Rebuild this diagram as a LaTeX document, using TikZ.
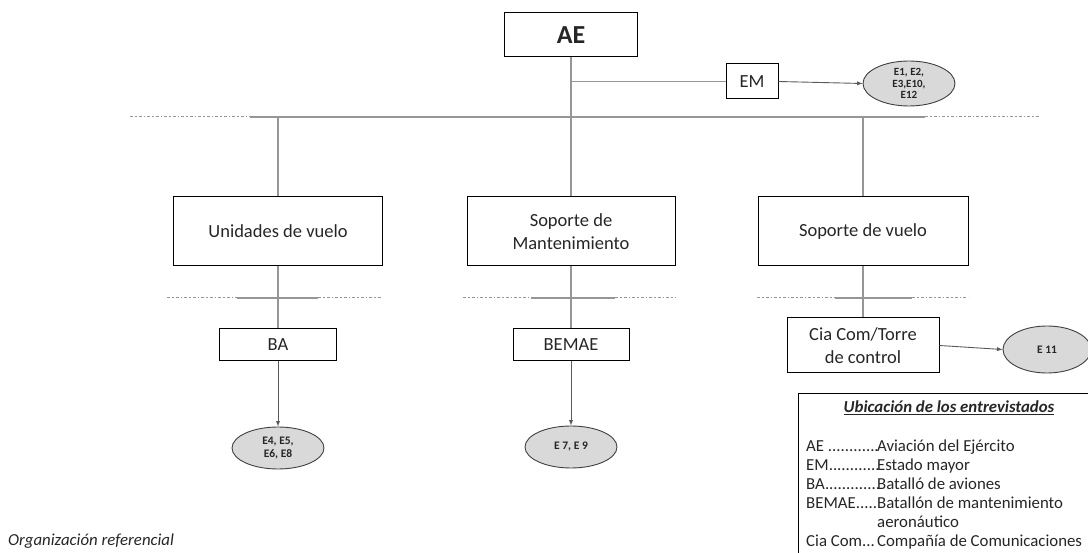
\documentclass[tikz,border=0pt]{standalone}
\usepackage{fontspec}
\setmainfont{Carlito}
\usepackage{tikz}
\usetikzlibrary{shapes.geometric, arrows}
\definecolor{txtgray}{RGB}{38,38,38}
\definecolor{linegray}{RGB}{150,150,150}
\definecolor{arrowgray}{RGB}{90,90,90}
\definecolor{dashgray}{RGB}{150,150,150}
\definecolor{ellfill}{RGB}{217,217,217}
\definecolor{ellborder}{RGB}{64,64,64}
\tikzstyle{unit} = [rectangle, minimum height=69pt, align=center, draw=black, line width=1pt, text=txtgray, font=\fontsize{18.5}{23}\selectfont, inner sep=0pt]
\tikzstyle{subunit} = [unit, minimum height=32pt]
\tikzstyle{people} = [ellipse, draw=ellborder, fill=ellfill, line width=0.9pt]
\tikzstyle{peopletext} = [text=txtgray, font=\bfseries\fontsize{11.5}{13}\selectfont, align=center, inner sep=0pt]
\tikzstyle{link} = [draw=linegray, line width=1.1pt]
\tikzstyle{arrow} = [draw=arrowgray, line width=0.9pt, ->, >=latex]
\tikzstyle{dashbar} = [draw=dashgray, line width=1pt, dash pattern=on 3pt off 2pt on 1.5pt off 2pt]

\begin{document}
\begin{tikzpicture}[x=1pt, y=-1pt, node distance=113.5pt]
    \useasboundingbox (0,0) rectangle (1088,553);

    \node (ae) [unit, minimum width=133pt, minimum height=44pt, font=\bfseries\fontsize{26}{30}\selectfont] at (571,35) {AE};
    \node (em) [unit, minimum width=52pt, minimum height=35pt] at (752,81.5) {EM};
    \node (eTop) [people, minimum width=92pt, minimum height=45pt, label={[peopletext, font=\bfseries\fontsize{11}{11.5}\selectfont]center:{E1, E2,\\E3,E10,\\E12}}] at (909,83.5) {};

    \node (flight) [unit, minimum width=209pt] at (278,231.5) {Unidades de vuelo};
    \node (maint) [unit, minimum width=208pt, node distance=293pt, right of=flight] {Soporte de\\Mantenimiento};
    \node (support) [unit, minimum width=210pt, node distance=292pt, right of=maint] {Soporte de vuelo};

    \node (ba) [subunit, minimum width=117pt, below of=flight] {BA};
    \node (bemae) [subunit, minimum width=116pt, below of=maint] {BEMAE};
    \node (cia) [unit, minimum width=152pt, minimum height=55pt, node distance=114pt, below of=support] {Cia Com/Torre\\de control};

    \node (eBA) [people, minimum width=92pt, minimum height=42pt, node distance=103pt, below of=ba, label={[peopletext]center:{E4, E5,\\E6, E8}}] {};
    \node (eBEMAE) [people, minimum width=92pt, minimum height=42pt, node distance=102pt, below of=bemae, label={[peopletext]center:E 7, E 9}] {};
    \node (eCia) [people, minimum width=88pt, minimum height=47pt, label={[peopletext]center:E 11}] at (1047,349.5) {};

    % bars
    \coordinate (barA) at (130,117);
    \coordinate (barB) at (250,117);
    \coordinate (barC) at (925,117);
    \coordinate (barD) at (1040,117);
    \draw [dashbar] (barA) -- (barB);
    \draw [link] (barB) -- (barC);
    \draw [dashbar] (barC) -- (barD);

    \draw [dashbar] (167,298) -- (237,298);
    \draw [link] (237,298) -- (318,298);
    \draw [dashbar] (318,298) -- (381,298);
    \draw [dashbar] (463,298) -- (531,298);
    \draw [link] (531,298) -- (615,298);
    \draw [dashbar] (615,298) -- (676,298);
    \draw [dashbar] (757,298) -- (835,298);
    \draw [link] (835,298) -- (912,298);
    \draw [dashbar] (912,298) -- (968,298);

    \draw [link] (ae.south) -- (ae.south |- barB);
    \draw [link] (ae.south |- em.west) -- (em.west);
    \draw [arrow] (em.east) -- (eTop.west);

    \draw [link] (flight.north) -- (flight.north |- barB);
    \draw [link] (maint.north) -- (maint.north |- barB);
    \draw [link] (support.north) -- (support.north |- barB);
    \draw [link] (flight.south) -- (ba.north);
    \draw [link] (maint.south) -- (bemae.north);
    \draw [link] (support.south) -- (cia.north);

    \draw [arrow] (ba.south) -- (eBA.north);
    \draw [arrow] (bemae.south) -- (eBEMAE.north);
    \draw [arrow] (cia.east) -- (eCia.west);

    % legend
    \node (legend) [draw=black, line width=0.9pt, minimum width=310pt, minimum height=175pt, anchor=north west] at (798,393) {};
    \node (legendTitle) [text=txtgray, font=\bfseries\itshape\fontsize{16.8}{19}\selectfont] at (949,408) {\underline{Ubicación de los entrevistados}};
    \node (legendList) [anchor=north west, inner sep=0pt, text=txtgray, font=\fontsize{16.8}{19}\selectfont] at (806,438) {%
        \begin{tabular}{@{}l@{}l@{}}
        \makebox[71pt][l]{AE ............} & Aviación del Ejército\\
        \makebox[71pt][l]{EM............} & Estado mayor\\
        \makebox[71pt][l]{BA.............} & Batalló de aviones\\
        \makebox[71pt][l]{BEMAE.....} & Batallón de mantenimiento\\
         & aeronáutico\\
        \makebox[71pt][l]{Cia Com...} & Compañía de Comunicaciones
        \end{tabular}};

    \node (caption) [anchor=west, inner sep=0pt, text=txtgray, font=\itshape\fontsize{16.8}{20}\selectfont] at (8,541) {Organización referencial};
\end{tikzpicture}
\end{document}
